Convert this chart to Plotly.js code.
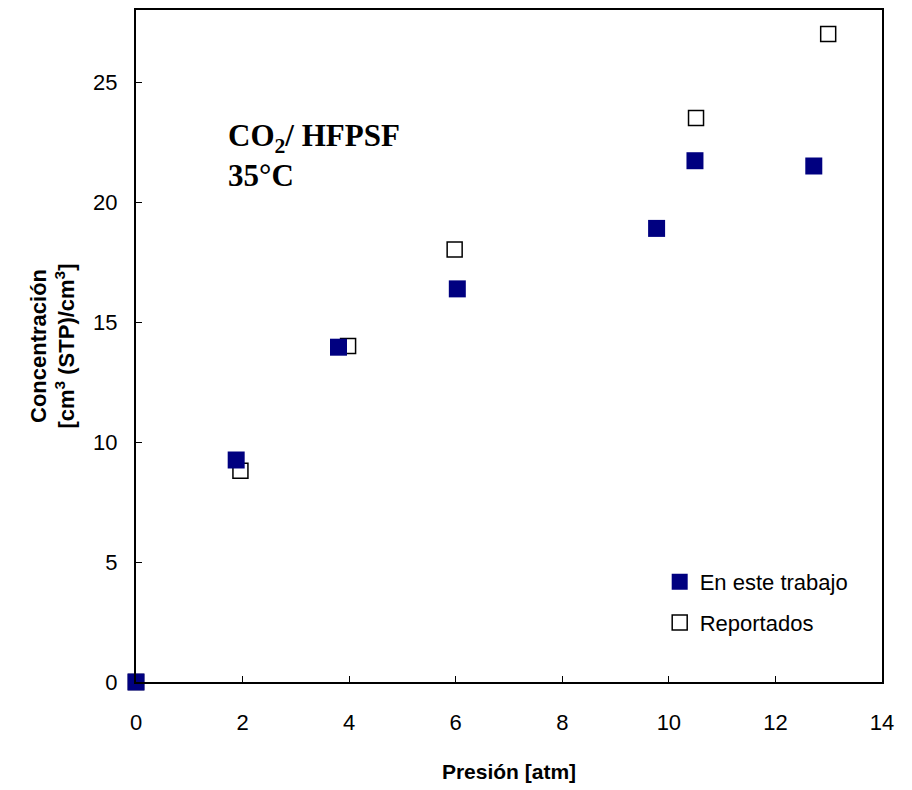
<!DOCTYPE html>
<html><head><meta charset="utf-8">
<script src="https://cdn.plot.ly/plotly-3.0.1.min.js"></script>
<style>body{margin:0;background:#fff}#c{width:912px;height:790px}</style>
</head><body><div id="c"></div>
<script>
const presionTrabajo = [0, 1.88, 3.8, 6.03, 9.77, 10.49, 12.72];
const concTrabajo = [0, 9.25, 13.95, 16.38, 18.9, 21.72, 21.5];
const presionReportados = [0, 1.96, 3.98, 5.98, 10.51, 12.99];
const concReportados = [0, 8.8, 14.0, 18.02, 23.5, 27.0];
const xTicks = [0, 2, 4, 6, 8, 10, 12, 14];
const yTicks = [0, 5, 10, 15, 20, 25];

const traces = [
  {x: presionReportados, y: concReportados, mode: 'markers', type: 'scatter', name: 'Reportados',
   legendgroup: 'b', legendrank: 2, cliponaxis: false,
   marker: {symbol: 'square', size: 15, color: '#ffffff', line: {color: '#000000', width: 1.5}}},
  {x: presionTrabajo, y: concTrabajo, mode: 'markers', type: 'scatter', name: 'En este trabajo',
   legendgroup: 'a', legendrank: 1, cliponaxis: false,
   marker: {symbol: 'square', size: 17, color: '#000080', line: {color: '#000080', width: 0}}}
];

const axisCommon = {
  showgrid: false, zeroline: false, showline: true, linecolor: '#000', linewidth: 2,
  mirror: true, ticks: 'inside', ticklen: 6, tickwidth: 1, tickcolor: '#000',
  tickfont: {family: 'Liberation Sans, Arial', size: 22, color: '#000'}
};

const layout = {
  width: 912, height: 790,
  margin: {l: 136, r: 30, t: 10, b: 108},
  paper_bgcolor: '#fff', plot_bgcolor: '#fff',
  xaxis: Object.assign({}, axisCommon, {range: [0, 14], tickvals: xTicks, ticklabelstandoff: 20,
    title: {text: '<b>Presión [atm]</b>', font: {family: 'Liberation Sans, Arial', size: 21, color: '#000'}, standoff: 30}}),
  yaxis: Object.assign({}, axisCommon, {range: [0, 28], tickvals: yTicks, ticklabelstandoff: 12,
    title: {text: '<b>Concentración<br>[cm<sup>3</sup> (STP)/cm<sup>3</sup>]</b>', font: {family: 'Liberation Sans, Arial', size: 22, color: '#000'}, standoff: 12}}),
  showlegend: true,
  legend: {x: 0.702, y: 0.18, xanchor: 'left', yanchor: 'top', traceorder: 'grouped',
    font: {family: 'Liberation Sans, Arial', size: 22, color: '#000'}, bgcolor: 'rgba(0,0,0,0)',
    itemwidth: 30, tracegroupgap: 9},
  annotations: [{
    xref: 'paper', yref: 'paper', x: 0.121, y: 0.843, xanchor: 'left', yanchor: 'top', align: 'left',
    showarrow: false,
    text: '<b>CO<sub>2</sub>/ HFPSF<br>35°C</b>',
    font: {family: 'Liberation Serif, Times New Roman', size: 31, color: '#000'}
  }]
};

Plotly.newPlot('c', traces, layout, {displayModeBar: false});
</script></body></html>
